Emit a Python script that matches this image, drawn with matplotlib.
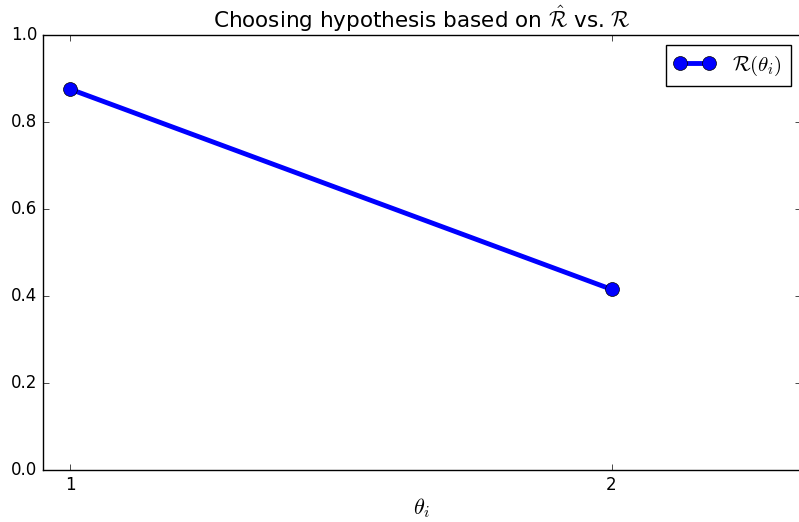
import matplotlib
matplotlib.use("Agg")
import matplotlib.pyplot as plt

plt.style.use("classic")

# hypothesis index and its true risk
hypotheses = [1, 2]
true_risk = [0.875, 0.415]
x_ticks = [1, 2]
y_ticks = [0.0, 0.2, 0.4, 0.6, 0.8, 1.0]

fig = plt.figure(figsize=(7.99, 5.22), dpi=100, facecolor="white")
ax = fig.add_axes([43 / 799, 52 / 522, 758 / 799, 435.3 / 522])

ax.plot(hypotheses, true_risk, "o-", color="blue", linewidth=3.5,
        markersize=10, label=r"$\mathcal{R}(\theta_i)$")

ax.set_xlim(0.95, 2.35)
ax.set_ylim(0.0, 1.0)
ax.set_xticks(x_ticks)
ax.set_yticks(y_ticks)
ax.set_xlabel(r"$\theta_i$", fontsize=16, labelpad=2)
ax.set_title(r"Choosing hypothesis based on $\hat{\mathcal{R}}$ vs. $\mathcal{R}$",
             fontsize=15.5)
ax.legend(loc="upper right", fontsize=15)

fig.savefig("out.png", dpi=100, facecolor="white")
